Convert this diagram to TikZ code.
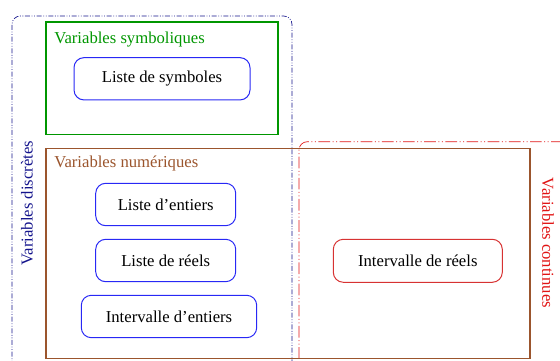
\documentclass[tikz,border=0pt]{standalone}
\usepackage{fontspec}
\setmainfont{Liberation Serif}
\definecolor{cgreen}{RGB}{0,150,0}
\definecolor{cbrown}{RGB}{155,85,45}
\definecolor{cblue}{RGB}{40,40,245}
\definecolor{cnavy}{RGB}{20,20,140}
\definecolor{cred}{RGB}{225,20,20}
\definecolor{credbox}{RGB}{215,50,50}
\begin{document}
\begin{tikzpicture}[x=0.6pt,y=-0.6pt,
  every node/.style={font=\fontsize{10}{12}\selectfont},
  item/.style={draw=cblue,line width=0.6pt,rounded corners=6pt,inner sep=0pt},
  title/.style={anchor=west,inner sep=0pt},
  group/.style={line width=0.7pt},
  zone/.style={line width=0.4pt,rounded corners=5pt},
  dashdisc/.style={dash pattern=on 3pt off 1pt on 0.5pt off 1pt on 0.5pt off 1pt},
  dashcont/.style={dash pattern=on 7pt off 1.5pt on 0.6pt off 1.5pt on 0.6pt off 1.5pt}]
\useasboundingbox (0,0) rectangle (560,361);
\clip (0,0) rectangle (560,361);
% zones
\draw[zone,cnavy,dashdisc] (12,380) -- (12,16) -- (292,16) -- (292,380);
\draw[zone,cred,dashcont] (299,380) -- (299,141.7) -- (580,141.7);
\node[rotate=90,text=cnavy] (disc) at (27,203) {Variables discrètes};
\node[rotate=-90,text=cred] (cont) at (548,243) {Variables continues};
% groups
\draw[group,cgreen] (46,22) rectangle (278,134.7);
\node[title,text=cgreen] (sym) at (54,39.5) {Variables symboliques};
\draw[group,cbrown] (46,148.5) rectangle (530,358.7);
\node[title,text=cbrown] (num) at (54,163) {Variables numériques};
% items
\node[item,minimum width=176*0.6pt,minimum height=42.3*0.6pt] (ls) at (162,78.8) {Liste de symboles};
\node[item,minimum width=140*0.6pt,minimum height=42.4*0.6pt] (le) at (165.7,204.5) {Liste d’entiers};
\node[item,minimum width=140*0.6pt,minimum height=42.4*0.6pt] (lr) at (165.7,260.5) {Liste de réels};
\node[item,minimum width=175.4*0.6pt,minimum height=42.4*0.6pt] (ie) at (169,316.5) {Intervalle d’entiers};
\node[item,draw=credbox,minimum width=169*0.6pt,minimum height=43*0.6pt] (ir) at (417.8,260.8) {Intervalle de réels};
\end{tikzpicture}
\end{document}
